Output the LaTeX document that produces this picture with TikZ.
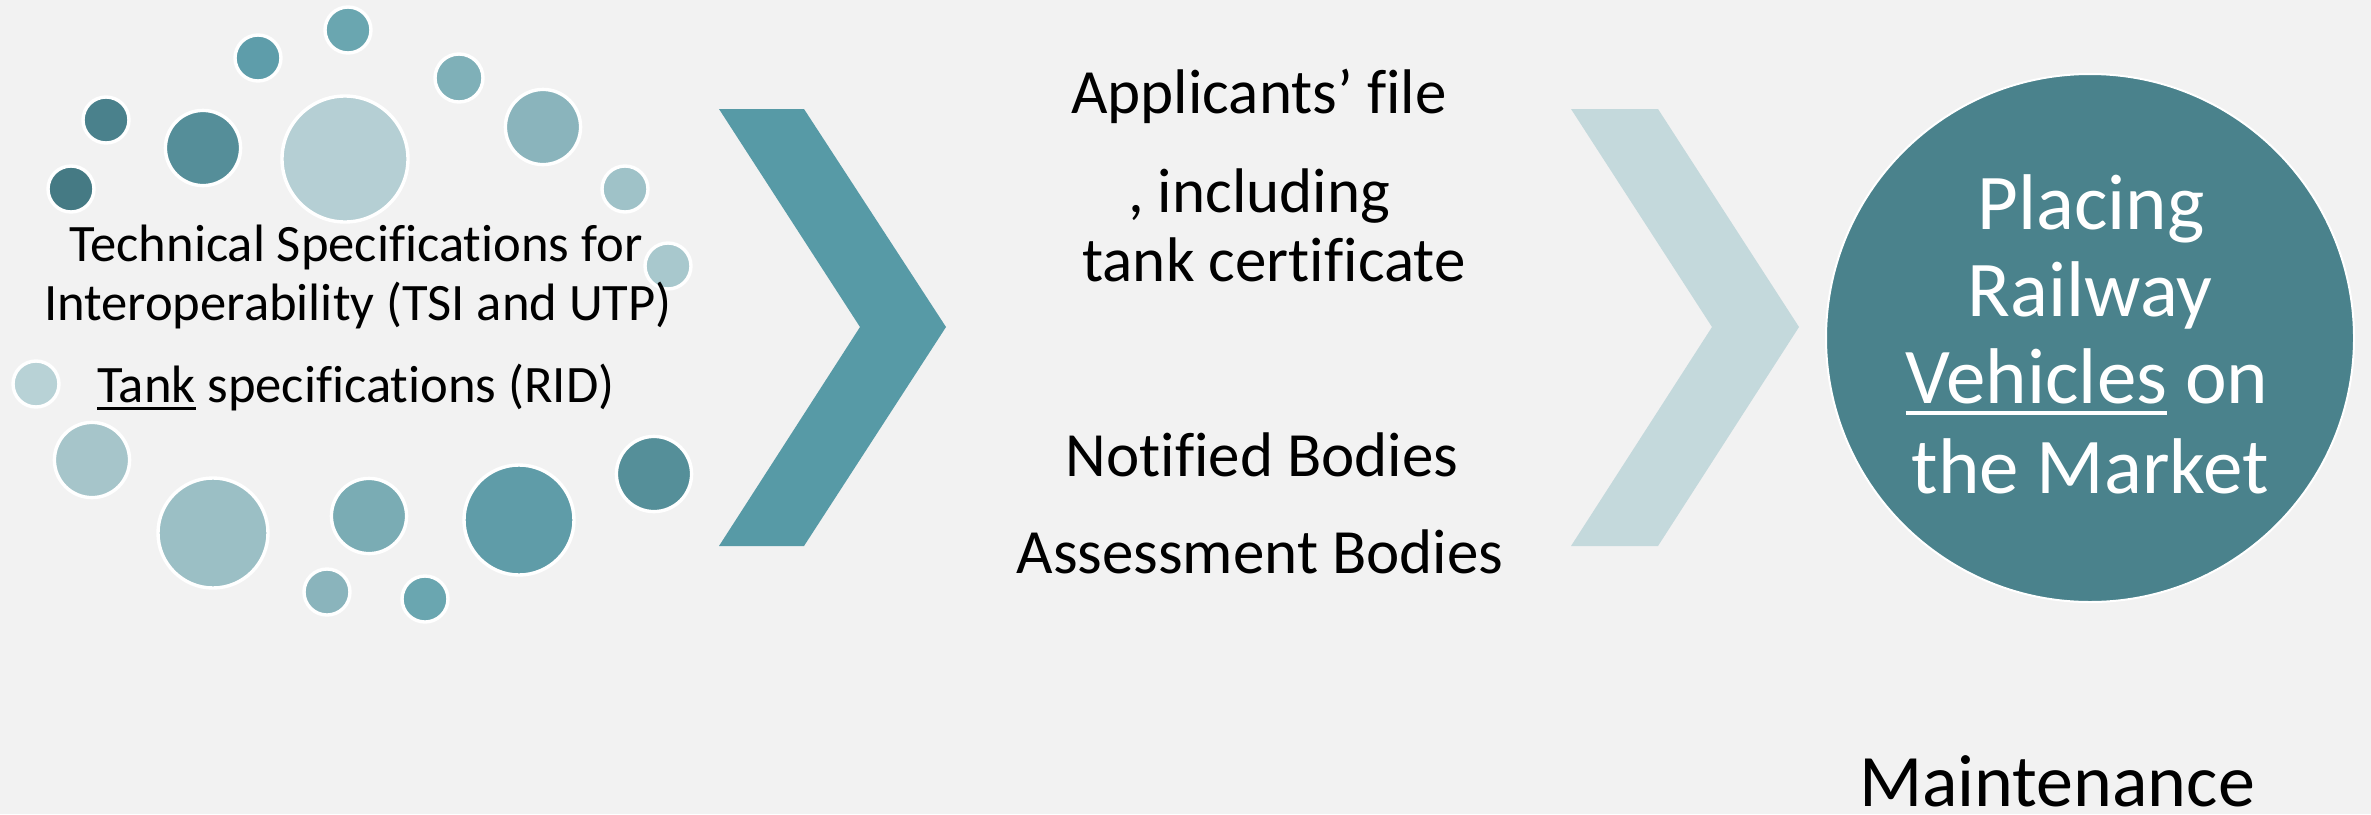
\documentclass[tikz,border=0pt]{standalone}
\usepackage{fontspec}
\setmainfont{Carlito}[RawFeature={-liga;-dlig;-clig;-calt;-rlig}]
\definecolor{bg}{HTML}{F2F2F2}
\definecolor{ca}{HTML}{6AA6B0}
\definecolor{cb}{HTML}{5E9DAA}
\definecolor{cc}{HTML}{7FB0B8}
\definecolor{cd}{HTML}{4A818C}
\definecolor{ce}{HTML}{558E99}
\definecolor{cf}{HTML}{B5CFD4}
\definecolor{cg}{HTML}{8AB4BC}
\definecolor{ch}{HTML}{457A84}
\definecolor{ci}{HTML}{9FC2C8}
\definecolor{cj}{HTML}{A8C8CD}
\definecolor{ck}{HTML}{B8D2D6}
\definecolor{cl}{HTML}{A6C5CA}
\definecolor{cm}{HTML}{9BBFC5}
\definecolor{cn}{HTML}{7AACB4}
\definecolor{co}{HTML}{5F9CA8}
\definecolor{cp}{HTML}{558F99}
\definecolor{chevA}{HTML}{579AA6}
\definecolor{chevB}{HTML}{C4D9DC}
\definecolor{bigc}{HTML}{4A828C}
\newcommand\myul[3]{\setbox0\hbox{#3}\rlap{\rule[-#1]{\wd0}{#2}}\box0\relax}
\begin{document}
\begin{tikzpicture}[x=0.5pt,y=-0.5pt,
  dot/.style={circle,draw=white,line width=1.7pt,inner sep=0pt,minimum size=#1},
  lefttxt/.style={anchor=base,inner sep=0pt,font=\fontsize{26.3}{31}\selectfont},
  midtxt/.style={anchor=base,inner sep=0pt,font=\fontsize{31.5}{38}\selectfont},
  righttxt/.style={anchor=base,inner sep=0pt,text=white,font=\fontsize{39.5}{47}\selectfont}]
\fill[bg] (0,0) rectangle (2371,814);
\useasboundingbox (0,0) rectangle (2371,814);
% circles
\node[dot=23pt,fill=ca] (c1) at (348,30) {};
\node[dot=23pt,fill=cb] (c2) at (258,58) {};
\node[dot=24pt,fill=cc] (c3) at (459,78) {};
\node[dot=23pt,fill=cd] (c4) at (106,120) {};
\node[dot=37.6pt,fill=ce] (c5) at (203,148) {};
\node[dot=63pt,fill=cf] (c6) at (345,159) {};
\node[dot=37.6pt,fill=cg] (c7) at (543,127) {};
\node[dot=23pt,fill=ch] (c8) at (71,189) {};
\node[dot=23pt,fill=ci] (c9) at (625,189) {};
\node[dot=23pt,fill=cj] (c10) at (668,266) {};
\node[dot=23pt,fill=ck] (c11) at (36,384) {};
\node[dot=37.6pt,fill=cl] (c12) at (92,460) {};
\node[dot=55pt,fill=cm] (c13) at (213,533) {};
\node[dot=37.6pt,fill=cn] (c14) at (369,516) {};
\node[dot=55pt,fill=co] (c15) at (519,520) {};
\node[dot=37.6pt,fill=cp] (c16) at (654,474) {};
\node[dot=23pt,fill=cg] (c17) at (327,592) {};
\node[dot=23pt,fill=ca] (c18) at (425,599) {};
% left text
\node[lefttxt] (t1) at (356,261) {Technical Specifications for};
\node[lefttxt] (t2) at (358,320) {Interoperability (TSI and UTP)};
\node[lefttxt] (t3) at (356,402) {\myul{4pt}{1.5pt}{Tank} specifications (RID)};
% chevrons
\fill[chevA] (719,109) -- (804,109) -- (946,327) -- (804,546) -- (719,546) -- (860,327) -- cycle;
\fill[chevB] (1571,109) -- (1658,109) -- (1799,327) -- (1658,546) -- (1571,546) -- (1712,327) -- cycle;
% middle text
\node[midtxt] (m1) at (1259,113) {Applicants’ file};
\node[midtxt] (m2) at (1259,212) {, including};
\node[midtxt] (m3) at (1274,281) {tank certificate};
\node[midtxt] (m4) at (1262,476) {Notified Bodies};
\node[midtxt] (m5) at (1260,573) {Assessment Bodies};
% right circle
\node[circle,fill=bigc,draw=white,line width=1pt,inner sep=0pt,minimum size=264pt] (market) at (2090,338) {};
\node[righttxt] (r1) at (2091,229) {Placing};
\node[righttxt] (r2) at (2090,316) {Railway};
\node[righttxt] (r3) at (2087,403) {\myul{6pt}{1.8pt}{Vehicles} on};
\node[righttxt] (r4) at (2090,493) {the Market};
\node[anchor=base,inner sep=0pt,font=\fontsize{37}{44}\selectfont] (maint) at (2057,806) {Maintenance};
\end{tikzpicture}
\end{document}
